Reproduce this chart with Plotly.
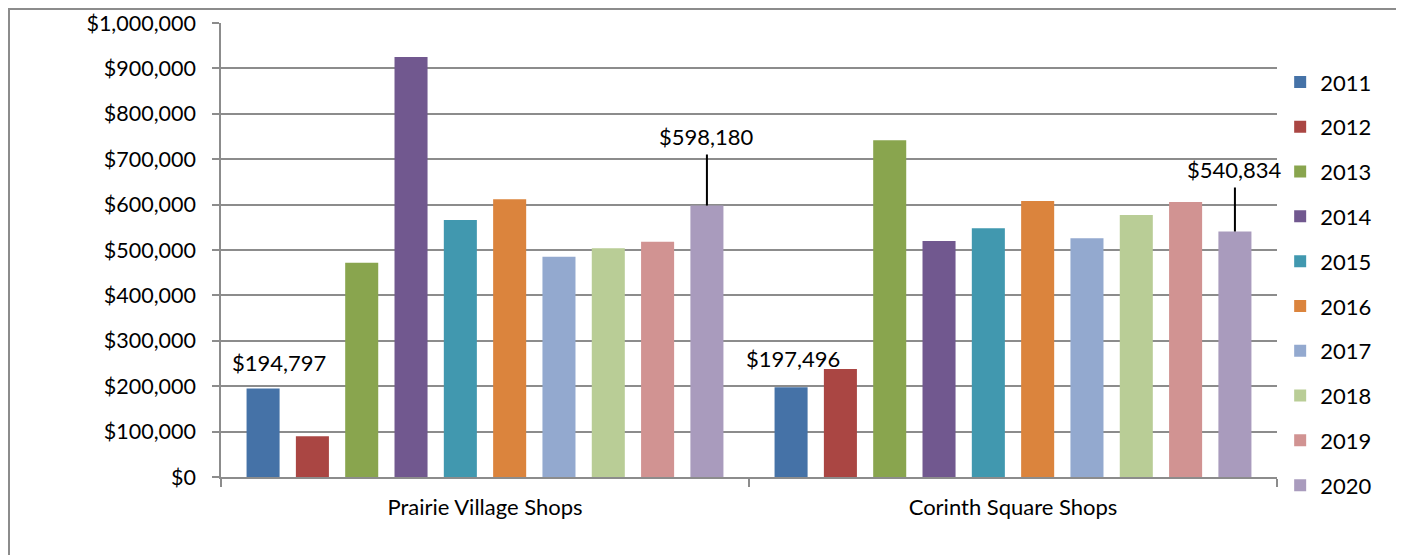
import plotly.graph_objects as go

categories = ["Prairie Village Shops", "Corinth Square Shops"]
years = ["2011", "2012", "2013", "2014", "2015", "2016", "2017", "2018", "2019", "2020"]
prairie_village = [194797, 90000, 472000, 925000, 566000, 612000, 485000, 504000, 518000, 598180]
corinth_square = [197496, 238000, 742000, 520000, 548000, 608000, 526000, 577000, 606000, 540834]
colors = ["#4572A7", "#AA4643", "#89A54E", "#71588F", "#4198AF",
          "#DB843D", "#93A9CF", "#B9CD96", "#D19392", "#A99BBD"]

FONT = "Lato"
FS = 22
W, H = 1392, 547
L, T = 213, 15
PW, PH = 1056, 454
R = W - L - PW
B = H - T - PH
BARGAP = 0.066

fig = go.Figure()
for i, yr in enumerate(years):
    fig.add_trace(go.Bar(
        x=categories,
        y=[prairie_village[i], corinth_square[i]],
        name=yr,
        legendgroup=yr,
        marker=dict(color=colors[i], line=dict(width=0)),
    ))

slot = PW / len(categories) * (1 - BARGAP) / len(years)

def bar_shift(idx):
    return (idx - (len(years) - 1) / 2) * slot

def money(v):
    return "${:,.0f}".format(v)

annotations = []
# 2011 labels (no leader line)
for cat, vals, dx, dy in zip(categories, [prairie_village, corinth_square], [16, 2], [26, 29]):
    annotations.append(dict(
        x=cat, y=vals[0], xref="x", yref="y",
        text=money(vals[0]), showarrow=False,
        xshift=bar_shift(0) + dx, yshift=dy, yanchor="middle",
        font=dict(family=FONT, size=FS, color="#000"),
    ))
# 2020 labels with leader lines
for cat, vals, ay in zip(categories, [prairie_village, corinth_square], [-53, -46]):
    annotations.append(dict(
        x=cat, y=vals[9], xref="x", yref="y",
        text=money(vals[9]), showarrow=True, arrowhead=0, arrowwidth=2,
        arrowcolor="#000", ax=0, ay=ay, yanchor="bottom", startstandoff=2,
        xshift=bar_shift(9),
        font=dict(family=FONT, size=FS, color="#000"),
    ))

fig.update_layout(
    width=W, height=H,
    margin=dict(l=L, r=R, t=T, b=B, autoexpand=False),
    paper_bgcolor="white", plot_bgcolor="white",
    barmode="group", bargap=BARGAP, bargroupgap=0.33,
    font=dict(family=FONT, size=FS, color="#000"),
    legend=dict(x=1.003, y=0.916, xanchor="left", yanchor="top",
                font=dict(family=FONT, size=FS, color="#000"),
                tracegroupgap=13.2, itemwidth=30, bgcolor="rgba(0,0,0,0)"),
    annotations=annotations,
    shapes=[dict(type="rect", xref="paper", yref="paper",
                 x0=(1 - L) / PW, x1=(W - 2 - L) / PW,
                 y0=-(B + 30) / PH, y1=(PH + T - 1) / PH,
                 line=dict(color="#8c8c8c", width=2), layer="below")],
)

fig.update_yaxes(
    range=[0, 1000000], tickvals=[i * 100000 for i in range(11)],
    tickformat="$,.0f", showgrid=True, gridcolor="#8c8c8c", gridwidth=1.5,
    showline=True, linecolor="#8c8c8c", linewidth=1.5,
    ticks="outside", ticklen=7, tickcolor="#8c8c8c", tickwidth=1.5,
    ticklabelstandoff=12,
    zeroline=False, tickfont=dict(family=FONT, size=21.5, color="#000"),
)
fig.update_xaxes(
    range=[-0.5, len(categories) - 0.5],
    showline=True, linecolor="#8c8c8c", linewidth=1.5,
    ticks="outside", tickson="boundaries", ticklen=8, tickcolor="#8c8c8c", tickwidth=1.5,
    ticklabelstandoff=10,
    tickfont=dict(family=FONT, size=FS, color="#000"),
)

fig.write_html("out.html")
